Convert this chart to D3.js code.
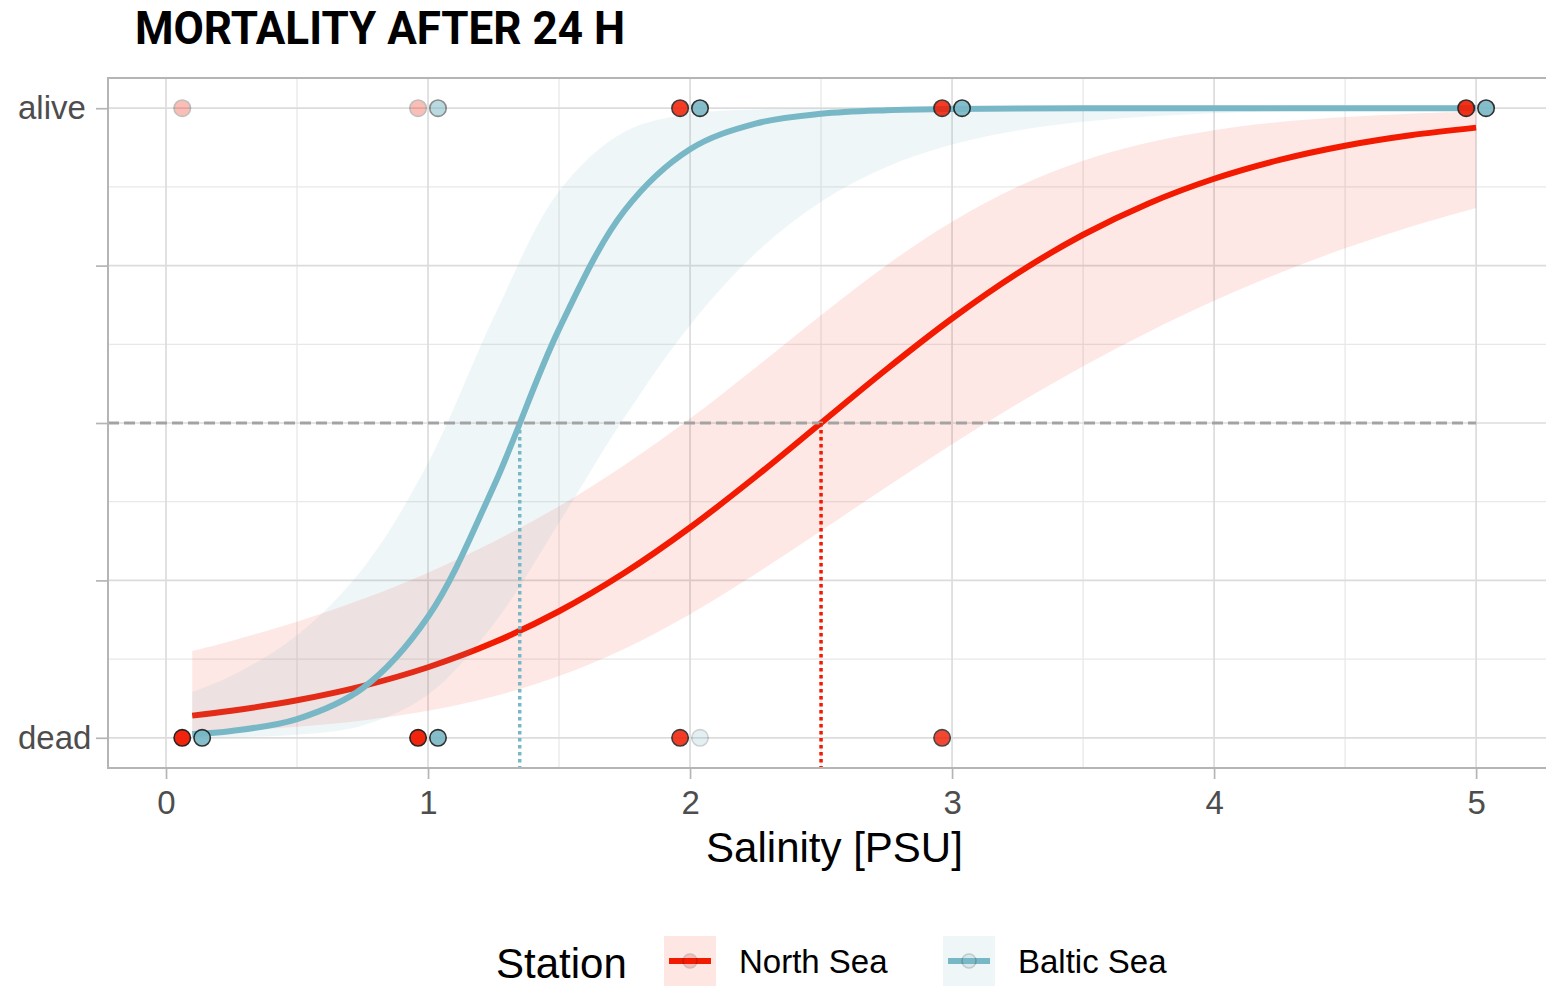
<!DOCTYPE html>
<html><head><meta charset="utf-8">
<script src="https://cdn.jsdelivr.net/npm/d3@7"></script>
<style>body{margin:0;background:#fff;overflow:hidden} svg{display:block}</style>
</head><body><svg id="chart" width="1546" height="986"></svg>
<script>
// ---------- data ----------
const titleText = "MORTALITY AFTER 24 H";
const xLabel = "Salinity [PSU]";
const legendTitle = "Station";
const stations = ["North Sea", "Baltic Sea"];
const stationColors = ["#F21A00", "#78B7C5"];
const xDomain = [-0.2214, 5.324];
const yDomain = [-0.048, 1.048];
const xTicks = [0, 1, 2, 3, 4, 5];
const xMinor = [0.5, 1.5, 2.5, 3.5, 4.5];
const yTicks = [0, 0.25, 0.5, 0.75, 1];
const yTickLabels = ["dead", "", "", "", "alive"];
const yMinor = [0.125, 0.375, 0.625, 0.875];

const salinityGrid = [0.1,0.25,0.5,0.75,1,1.25,1.5,1.75,2,2.25,2.5,2.75,3,3.25,3.5,3.75,4,4.25,4.5,4.75,5];
const northSeaFit   = [0.0352,0.0429,0.0595,0.0820,0.1120,0.1512,0.2010,0.2621,0.3340,0.4146,0.5,0.5854,0.6660,0.7379,0.7990,0.8488,0.8880,0.9180,0.9405,0.9571,0.9692];
const northSeaLower = [0.0082,0.0109,0.0174,0.0275,0.0429,0.0656,0.0981,0.1416,0.1964,0.2602,0.3289,0.3984,0.4663,0.5305,0.5900,0.6445,0.6940,0.7383,0.7775,0.8118,0.8416];
const northSeaUpper = [0.1379,0.1539,0.1844,0.2203,0.2623,0.3113,0.3679,0.4334,0.5072,0.5879,0.6711,0.7506,0.8198,0.8752,0.9165,0.9455,0.9651,0.9780,0.9862,0.9914,0.9947];
const balticFit     = [0.0059,0.0109,0.0297,0.0787,0.1923,0.3989,0.6491,0.8375,0.9349,0.9756,0.9911,0.9968,0.9989,0.9996,0.9998,0.9999,1,1,1,1,1];
const balticLower   = [0.0005,0.0011,0.0048,0.0195,0.0683,0.1802,0.3416,0.5090,0.6554,0.7696,0.8514,0.9066,0.9422,0.9646,0.9784,0.9869,0.9920,0.9952,0.9971,0.9982,0.9989];
const balticUpper   = [0.0728,0.0985,0.1629,0.2682,0.4363,0.6671,0.8683,0.9625,0.9909,0.9979,0.9995,0.9999,1,1,1,1,1,1,1,1,1];
const lc50 = [2.5, 1.35];          // salinity where p = 0.5, per station
const lc50Level = 0.5;

// observed outcomes (1 = alive, 0 = dead) with apparent opacity from overplotting
const pointStation  = ["North Sea","North Sea","North Sea","North Sea","North Sea",
                       "Baltic Sea","Baltic Sea","Baltic Sea","Baltic Sea",
                       "North Sea","North Sea","North Sea","North Sea",
                       "Baltic Sea","Baltic Sea","Baltic Sea"];
const pointSalinity = [0.1,1,2,3,5, 1,2,3,5, 0.1,1,2,3, 0.1,1,2];
const pointOutcome  = [1,1,1,1,1, 1,1,1,1, 0,0,0,0, 0,0,0];
const pointOpacity  = [0.28,0.28,0.85,0.85,0.9, 0.5,0.9,0.9,0.9, 0.95,0.95,0.85,0.8, 0.9,0.9,0.2];

// ---------- chart ----------
const svg = d3.select("#chart");
const L = 108, R = 1561, T = 78, B = 768;
const x = d3.scaleLinear().domain(xDomain).range([L, R]);
const y = d3.scaleLinear().domain(yDomain).range([B, T]);
const color = d3.scaleOrdinal().domain(stations).range(stationColors);
const font = "'Liberation Sans', Arial, Helvetica, sans-serif";

svg.append("rect").attr("width", 1546).attr("height", 986).attr("fill", "#fff");

// grid
const grid = svg.append("g");
grid.selectAll(".ym").data(yMinor).join("line")
  .attr("x1", L).attr("x2", R).attr("y1", d => y(d)).attr("y2", d => y(d))
  .attr("stroke", "#e8e8e8").attr("stroke-width", 1.3);
grid.selectAll(".xm").data(xMinor).join("line")
  .attr("y1", T).attr("y2", B).attr("x1", d => x(d)).attr("x2", d => x(d))
  .attr("stroke", "#e8e8e8").attr("stroke-width", 1.3);
grid.selectAll(".yM").data(yTicks).join("line")
  .attr("x1", L).attr("x2", R).attr("y1", d => y(d)).attr("y2", d => y(d))
  .attr("stroke", "#dcdcdc").attr("stroke-width", 1.7);
grid.selectAll(".xM").data(xTicks).join("line")
  .attr("y1", T).attr("y2", B).attr("x1", d => x(d)).attr("x2", d => x(d))
  .attr("stroke", "#dcdcdc").attr("stroke-width", 1.7);

// ribbons + lines (per station, in order)
const fits = {
  "North Sea": {fit: northSeaFit, lo: northSeaLower, hi: northSeaUpper},
  "Baltic Sea": {fit: balticFit, lo: balticLower, hi: balticUpper}
};
const area = d3.area().x(d => x(d.s)).y0(d => y(d.lo)).y1(d => y(d.hi)).curve(d3.curveCatmullRom);
const line = d3.line().x(d => x(d.s)).y(d => y(d.p)).curve(d3.curveCatmullRom);
stations.forEach(st => {
  const f = fits[st];
  const rows = salinityGrid.map((s, i) => ({s, p: f.fit[i], lo: f.lo[i], hi: f.hi[i]}));
  svg.append("path").attr("d", area(rows)).attr("fill", color(st))
    .attr("fill-opacity", st === "North Sea" ? 0.1 : 0.12);
  svg.append("path").attr("d", line(rows)).attr("fill", "none").attr("stroke", color(st))
    .attr("stroke-width", 6).attr("stroke-linecap", "butt");
});

// reference lines
svg.append("line").attr("x1", L).attr("x2", x(5)).attr("y1", y(lc50Level)).attr("y2", y(lc50Level))
  .attr("stroke", "#a3a3a3").attr("stroke-width", 3).attr("stroke-dasharray", "11,5");
stations.forEach((st, i) => {
  svg.append("line").attr("x1", x(lc50[i])).attr("x2", x(lc50[i]))
    .attr("y1", y(lc50Level)).attr("y2", B)
    .attr("stroke", color(st)).attr("stroke-width", 3.5).attr("stroke-dasharray", "3.5,3.5");
});

// points
const dodge = 0.038;
const pts = pointSalinity.map((s, i) => ({s, st: pointStation[i], o: pointOutcome[i], a: pointOpacity[i]}));
svg.append("g").selectAll("circle").data(pts).join("circle")
  .attr("cx", d => x(d.s + (d.st === "North Sea" ? -dodge : dodge)))
  .attr("cy", d => y(d.o))
  .attr("r", 8.2)
  .attr("fill", d => color(d.st))
  .attr("stroke", "#1a1a1a").attr("stroke-width", 1.6)
  .attr("opacity", d => d.a);

// panel border
svg.append("rect").attr("x", L).attr("y", T).attr("width", R - L).attr("height", B - T)
  .attr("fill", "none").attr("stroke", "#b5b5b5").attr("stroke-width", 2);

// axes
const xAxis = svg.append("g").attr("transform", `translate(0,${B})`)
  .call(d3.axisBottom(x).tickValues(xTicks).tickFormat(d3.format("d")).tickSize(11).tickPadding(12));
xAxis.select(".domain").remove();
xAxis.selectAll("line").attr("stroke", "#b5b5b5").attr("stroke-width", 1.7);
xAxis.selectAll("text").attr("font-family", font).attr("font-size", 33).attr("fill", "#4d4d4d");

const yAxis = svg.append("g").attr("transform", `translate(${L},0)`)
  .call(d3.axisLeft(y).tickValues(yTicks).tickFormat((d, i) => yTickLabels[i]).tickSize(12).tickPadding(6));
yAxis.select(".domain").remove();
yAxis.selectAll("line").attr("stroke", "#b5b5b5").attr("stroke-width", 1.7);
yAxis.selectAll("text").attr("font-family", font).attr("font-size", 33).attr("fill", "#4d4d4d")
  .attr("text-anchor", "start").attr("x", 18 - L);

// x label
svg.append("text").attr("x", (L + R) / 2).attr("y", 862).attr("text-anchor", "middle")
  .attr("font-family", font).attr("font-size", 42).attr("fill", "#000").text(xLabel);

// title
svg.append("text").attr("x", 135).attr("y", 44)
  .attr("font-family", "Roboto, 'Liberation Sans', sans-serif").attr("font-weight", 700)
  .attr("font-size", 47).attr("textLength", 490).attr("lengthAdjust", "spacingAndGlyphs")
  .attr("fill", "#000").text(titleText);

// legend
const lg = svg.append("g");
lg.append("text").attr("x", 496).attr("y", 978).attr("font-family", font).attr("font-size", 42)
  .attr("fill", "#000").text(legendTitle);
const keyX = [664, 943];
stations.forEach((st, i) => {
  const kx = keyX[i], ky = 936, kw = 52, kh = 50;
  lg.append("rect").attr("x", kx).attr("y", ky).attr("width", kw).attr("height", kh)
    .attr("fill", color(st)).attr("fill-opacity", st === "North Sea" ? 0.11 : 0.12);
  lg.append("line").attr("x1", kx + 5).attr("x2", kx + kw - 5).attr("y1", ky + kh / 2).attr("y2", ky + kh / 2)
    .attr("stroke", color(st)).attr("stroke-width", 6);
  lg.append("circle").attr("cx", kx + kw / 2).attr("cy", ky + kh / 2).attr("r", 7)
    .attr("fill", color(st)).attr("stroke", "#1a1a1a").attr("stroke-width", 1.5).attr("opacity", 0.2);
  lg.append("text").attr("x", kx + 75).attr("y", ky + kh / 2 + 12).attr("font-family", font)
    .attr("font-size", 33).attr("fill", "#000").text(st);
});
</script>
</body></html>
